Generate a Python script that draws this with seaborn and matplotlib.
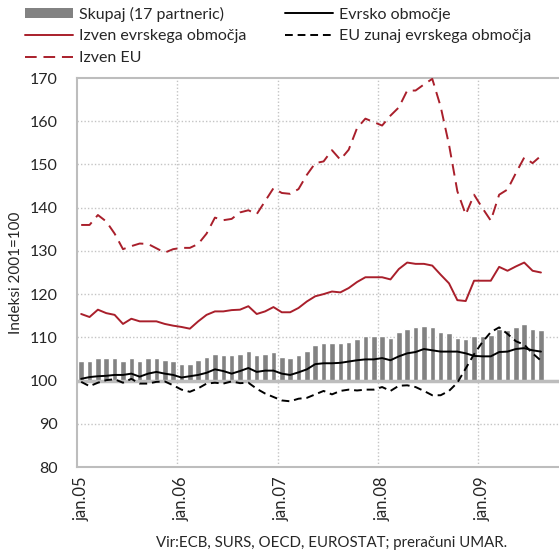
import numpy as np
import pandas as pd
import matplotlib
matplotlib.use('Agg')
import matplotlib.pyplot as plt
from matplotlib.lines import Line2D
from matplotlib.patches import Patch
import seaborn as sns

# -- Data (monthly, jan.05 - avg.09), indeks 2001=100 --
skupaj = [104.5, 104.5, 105.2, 105.2, 105.2, 104.5, 105.2, 104.5, 105.2, 105.2, 104.8, 104.5,
          103.8, 103.8, 104.8, 105.4, 106.2, 105.9, 105.9, 106.2, 106.9, 105.8, 106.2, 106.6,
          105.5, 105.2, 105.9, 106.9, 108.2, 108.6, 108.6, 108.6, 108.9, 109.5, 110.2, 110.2,
          110.2, 109.9, 111.2, 112.0, 112.3, 112.6, 112.3, 111.2, 110.9, 109.9, 109.5, 110.2,
          110.2, 110.5, 112.0, 111.6, 112.3, 113.0, 112.0, 111.6]
evrsko = [100.4, 100.8, 101.0, 101.1, 101.3, 101.3, 101.6, 100.9, 101.6, 102.0, 101.6, 101.3,
          100.7, 101.0, 101.3, 101.8, 102.6, 102.2, 101.6, 102.2, 102.9, 102.0, 102.3, 102.3,
          101.6, 101.3, 101.9, 102.6, 103.8, 104.0, 104.0, 104.1, 104.4, 104.7, 104.9, 104.9,
          105.2, 104.7, 105.6, 106.3, 106.6, 107.3, 107.0, 106.7, 106.7, 106.7, 106.3, 105.7,
          105.6, 105.6, 106.6, 106.7, 107.3, 107.5, 107.0, 106.7]
eu_zunaj = [99.7, 98.7, 99.5, 100.1, 100.3, 99.5, 100.4, 99.3, 99.3, 99.7, 99.8, 98.9,
            97.9, 97.4, 98.2, 99.3, 99.5, 99.3, 99.8, 99.4, 99.5, 98.1, 97.0, 96.2,
            95.4, 95.2, 95.8, 96.0, 96.8, 97.6, 96.8, 97.6, 97.9, 97.7, 97.9, 97.9,
            98.5, 97.6, 98.8, 98.9, 98.5, 97.6, 96.6, 96.6, 97.6, 99.5, 102.8, 106.1,
            108.9, 111.2, 112.3, 110.8, 109.1, 108.3, 106.3, 104.6]
izven_evr = [115.4, 114.7, 116.4, 115.6, 115.2, 113.1, 114.3, 113.7, 113.7, 113.7, 113.1, 112.7,
             112.4, 112.0, 113.7, 115.2, 116.0, 116.0, 116.3, 116.4, 117.2, 115.4, 116.0, 117.0,
             115.8, 115.8, 116.8, 118.3, 119.5, 120.0, 120.6, 120.4, 121.4, 122.8, 123.9, 123.9,
             123.9, 123.4, 125.8, 127.3, 127.0, 127.0, 126.6, 124.5, 122.5, 118.6, 118.4, 123.1,
             123.1, 123.1, 126.3, 125.4, 126.4, 127.3, 125.4, 125.0]
izven_eu = [136.0, 136.0, 138.3, 136.8, 134.0, 130.4, 131.1, 131.7, 131.6, 130.6, 129.6, 130.4,
            130.7, 130.7, 131.6, 134.0, 137.7, 137.1, 137.4, 138.9, 139.4, 138.5, 141.5, 144.5,
            143.4, 143.2, 144.3, 147.6, 150.3, 150.7, 153.3, 151.1, 153.4, 158.4, 160.6, 159.8,
            159.0, 161.3, 163.2, 167.1, 167.1, 168.5, 169.8, 163.4, 154.6, 143.8, 138.4, 143.0,
            139.9, 137.0, 143.0, 144.2, 148.0, 151.6, 150.3, 152.0]
year_labels = ['jan.05', 'jan.06', 'jan.07', 'jan.08', 'jan.09']

RED = '#a91f2b'
GREY_BAR = '#828282'
FRAME = '#bdbdbd'

sns.set_style('white')
plt.rcParams['font.family'] = ['Lato', 'DejaVu Sans']

df = pd.DataFrame({'m': np.arange(len(skupaj)), 'skupaj': skupaj, 'evrsko': evrsko,
                   'eu_zunaj': eu_zunaj, 'izven_evr': izven_evr, 'izven_eu': izven_eu})
df['skupaj_d'] = df['skupaj'] - 100

fig = plt.figure(figsize=(5.59, 5.52), dpi=100)
ax = fig.add_axes([77 / 559, 85 / 552, 482 / 559, 389 / 552])

# grid first (dotted)
for y in range(90, 170, 10):
    ax.axhline(y, color='#c4c4c4', lw=1, ls=(0, (1, 1.5)), zorder=0)
for k in range(1, 5):
    ax.axvline(12 * k - 0.5, color='#c4c4c4', lw=1, ls=(0, (1, 1.5)), zorder=0)

sns.barplot(data=df, x='m', y='skupaj_d', bottom=100, color=GREY_BAR, saturation=1,
            width=0.66, ax=ax, zorder=1)
ax.axhline(100, color=FRAME, lw=2.5, zorder=1.5)

sns.lineplot(data=df, x='m', y='evrsko', color='black', lw=1.4, ax=ax, zorder=3)
sns.lineplot(data=df, x='m', y='eu_zunaj', color='black', lw=1.4, ls=(0, (4, 2.5)), ax=ax, zorder=3)
sns.lineplot(data=df, x='m', y='izven_evr', color=RED, lw=1.4, ax=ax, zorder=3)
sns.lineplot(data=df, x='m', y='izven_eu', color=RED, lw=1.4, ls=(0, (6, 3.5)), ax=ax, zorder=3)

ax.set_xlim(-0.5, 57.16)
ax.set_ylim(80, 170)
ax.set_yticks(range(80, 171, 10))
ax.set_xticks([0, 12, 24, 36, 48])
ax.set_xticklabels(year_labels, rotation=90, fontsize=12)
ax.tick_params(axis='x', length=0, pad=7)
ax.tick_params(axis='y', length=0, pad=14, labelsize=11.5)
ax.set_xlabel('')
ax.set_ylabel('Indeksi 2001=100', fontsize=11, labelpad=5)
for side in ['left', 'top', 'bottom']:
    ax.spines[side].set_color(FRAME)
    ax.spines[side].set_linewidth(1.5)
ax.spines['right'].set_visible(False)

handles = [Patch(facecolor=GREY_BAR, edgecolor='none'),
           Line2D([], [], color=RED, lw=1.4),
           Line2D([], [], color=RED, lw=1.4, ls=(0, (6, 3.5))),
           Line2D([], [], color='black', lw=1.4),
           Line2D([], [], color='black', lw=1.4, ls=(0, (4, 2.5)))]
labels = ['Skupaj (17 partneric)', 'Izven evrskega območja', 'Izven EU',
          'Evrsko območje', 'EU zunaj evrskega območja']
fig.legend(handles, labels, ncol=2, loc='upper left', bbox_to_anchor=(0.025, 1.008),
           frameon=False, fontsize=11.5, handlelength=3.0, handleheight=0.6,
           handletextpad=0.4, labelspacing=0.48, columnspacing=2.4, borderpad=0.2)

fig.text(0.594, 1 - 543 / 552, 'Vir:ECB, SURS, OECD, EUROSTAT; preračuni UMAR.',
         ha='center', va='center', fontsize=10.8)

fig.savefig('out.png', dpi=100, facecolor='white')
